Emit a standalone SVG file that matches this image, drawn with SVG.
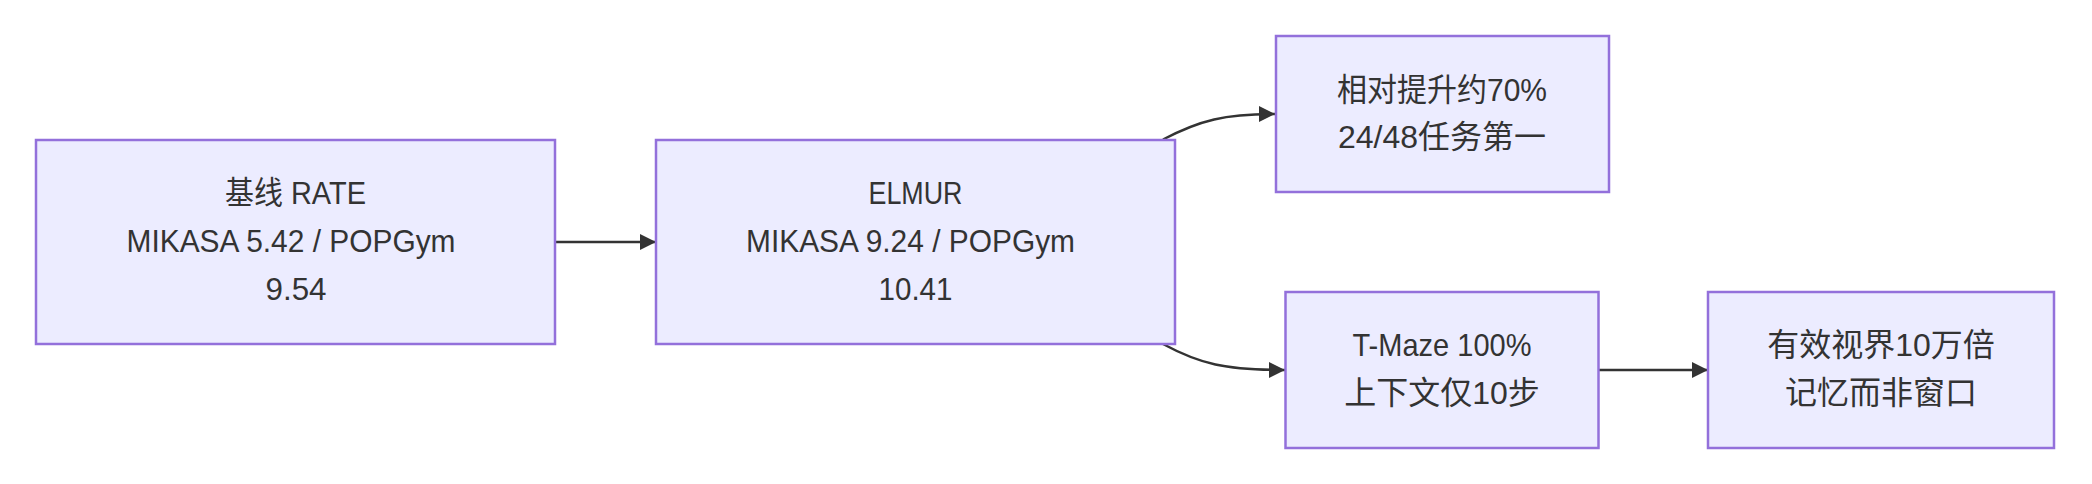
<svg xmlns="http://www.w3.org/2000/svg" width="2092" height="484" viewBox="0 0 2092 484">
<style>
.node rect{fill:#ECECFF;stroke:#9370DB;stroke-width:2.5}
.node text{font-family:"Liberation Sans","Noto Sans CJK SC",sans-serif;font-size:32px;fill:#333;text-anchor:middle}
.edge{fill:none;stroke:#333;stroke-width:2.5;marker-end:url(#arrow)}
</style>
<defs>
<marker id="arrow" viewBox="0 0 10 10" refX="10" refY="5" markerUnits="userSpaceOnUse" markerWidth="16" markerHeight="16" orient="auto">
<path d="M0,0 L10,5 L0,10 z" fill="#333"/>
</marker>
</defs>
<rect width="2092" height="484" fill="#fff"/>
<g id="connectors">
<path class="edge" d="M555,242 L656,242"/>
<path class="edge" d="M1163,139.5 C1200,120 1225,114 1275,114"/>
<path class="edge" d="M1163,344 C1200,364 1225,370 1285,370"/>
<path class="edge" d="M1598.5,370 L1708,370"/>
</g>
<g id="node-A" class="node">
<rect x="36" y="140" width="519" height="204"/>
<text x="295.5" y="204" textLength="141" lengthAdjust="spacingAndGlyphs">基线 RATE</text>
<text x="291" y="252" textLength="329" lengthAdjust="spacingAndGlyphs">MIKASA 5.42 / POPGym</text>
<text x="296" y="299.5" textLength="61" lengthAdjust="spacingAndGlyphs">9.54</text>
</g>
<g id="node-B" class="node">
<rect x="656" y="140" width="519" height="204"/>
<text x="915.5" y="204" textLength="94" lengthAdjust="spacingAndGlyphs">ELMUR</text>
<text x="910.5" y="252" textLength="329" lengthAdjust="spacingAndGlyphs">MIKASA 9.24 / POPGym</text>
<text x="915.5" y="299.5" textLength="74" lengthAdjust="spacingAndGlyphs">10.41</text>
</g>
<g id="node-C" class="node">
<rect x="1276" y="36" width="333" height="156"/>
<text x="1442" y="101" textLength="210" lengthAdjust="spacingAndGlyphs">相对提升约70%</text>
<text x="1442" y="148">24/48任务第一</text>
</g>
<g id="node-D" class="node">
<rect x="1285.5" y="292" width="313" height="156"/>
<text x="1442" y="356" textLength="179" lengthAdjust="spacingAndGlyphs">T-Maze 100%</text>
<text x="1442" y="404">上下文仅10步</text>
</g>
<g id="node-E" class="node">
<rect x="1708" y="292" width="346" height="156"/>
<text x="1881" y="356">有效视界10万倍</text>
<text x="1881" y="404">记忆而非窗口</text>
</g>
</svg>
